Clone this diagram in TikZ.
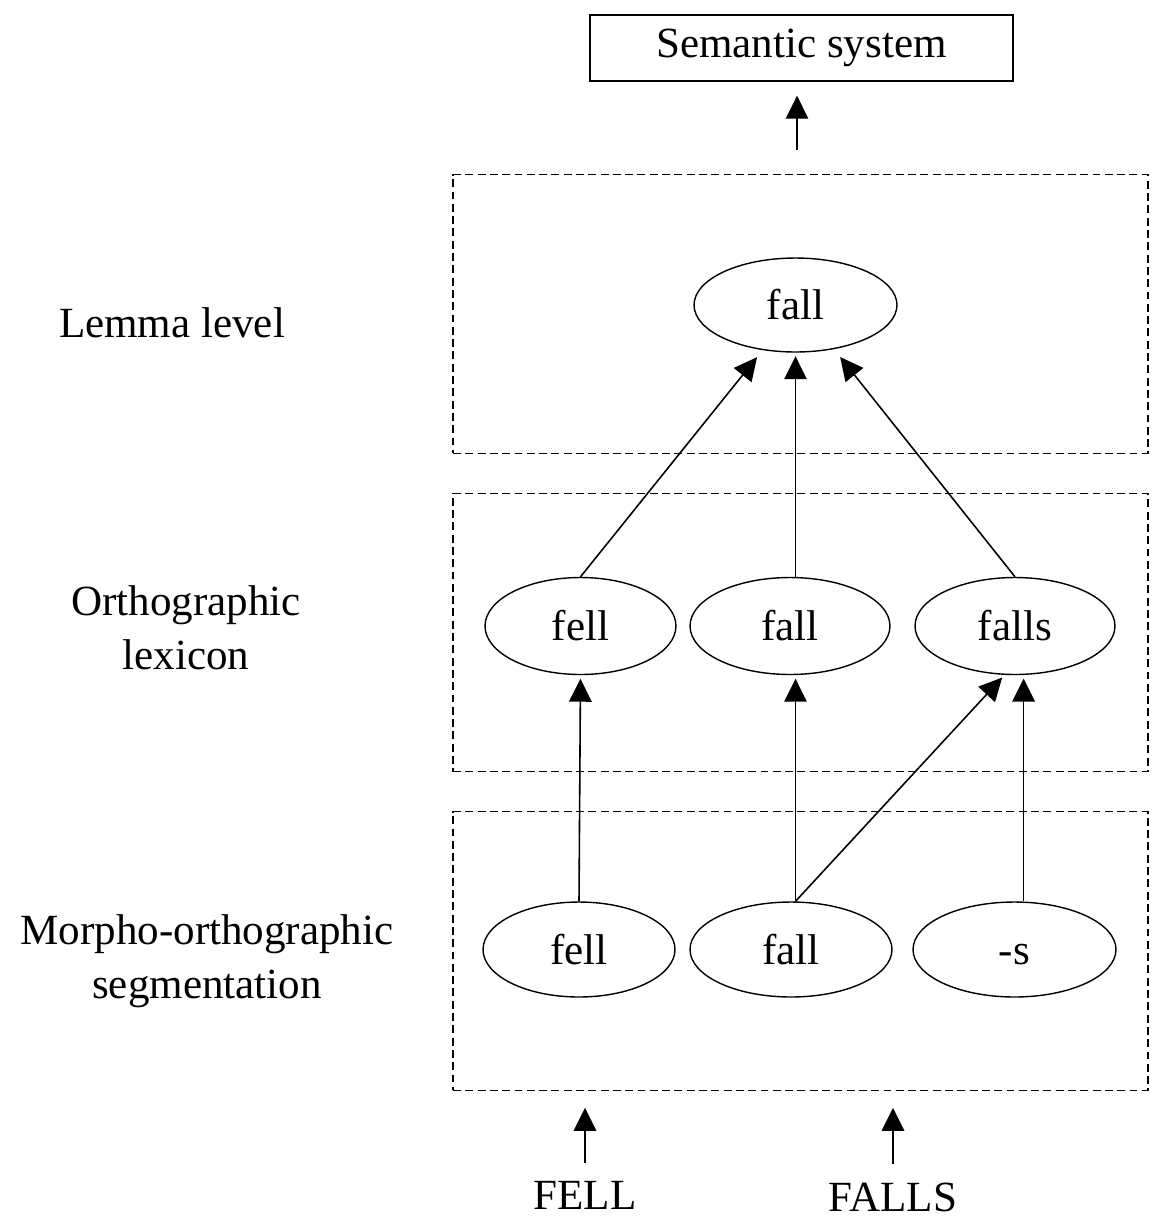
\documentclass[tikz,border=0pt]{standalone}
\usepackage{fontspec}
\setmainfont{Liberation Serif}
\usetikzlibrary{shapes.geometric,arrows.meta}

\begin{document}
\begin{tikzpicture}[x=0.02cm,y=-0.02cm,
    font=\fontsize{24.5}{30.5}\selectfont,
    word/.style={ellipse,draw,line width=0.8pt,inner sep=0pt,text height=16.8pt,text depth=0pt,minimum width=4cm,minimum height=1.94cm},
    layer/.style={draw,dashed,line width=0.7pt,dash pattern=on 4.5pt off 2.5pt,inner sep=0pt,minimum width=13.9cm,minimum height=5.57cm},
    arr/.style={-{Triangle[length=0.46cm,width=0.45cm]},line width=0.9pt,shorten >=2pt}]
      \useasboundingbox (0,0) rectangle (1153,1225);
      \draw
        (801.5,48) node[draw,line width=0.8pt,minimum width=8.46cm,minimum height=1.32cm] (0){Semantic system}
        (800.5,314) node[layer] (10){}
        (800.5,632.5) node[layer] (11){}
        (800.5,951) node[layer] (12){}
        (795.5,305) node[word,minimum width=4.06cm,minimum height=1.88cm] (1){fall}
        (580.5,626) node[word,minimum width=3.82cm] (2){fell}
        (790,626) node[word] (3){fall}
        (1015,626) node[word] (4){falls}
        (579,949.5) node[word,minimum width=3.84cm,minimum height=1.9cm] (5){fell}
        (791,949.5) node[word,minimum width=4.04cm,minimum height=1.9cm] (6){fall}
        (1014.5,949.5) node[word,minimum width=4.06cm,minimum height=1.9cm] (7){-s}
        (585,1195) node[inner sep=0pt] (8){FELL}
        (893,1197) node[inner sep=0pt] (9){FALLS}
        (172,323) node[align=center] (13){Lemma level}
        (186,628) node[align=center] (14){Orthographic\\lexicon}
        (207,961) node[align=center] (15){Morpho-orthographic\\segmentation};
      \coordinate (s0) at (797,150);
      \begin{scope}[arr]
        \draw[shorten >=0.28cm] (s0) to (s0 |- 0.south);
        \draw[shorten >=0.18cm] (2.north) to (1.234);
        \draw (3.north -| 1.south) to (1.south);
        \draw[shorten >=0.2cm] (4.north) to (1.311);
        \draw (5.north) to (2.south);
        \draw (6.north -| 1.south) to (3.south -| 1.south);
        \draw (6.north -| 1.south) to (4.258);
        \draw (7.north -| 4.280) to (4.280);
        \draw[shorten <=0.36cm,shorten >=0.34cm] (8.north) to (8.north |- 12.south);
        \draw[shorten <=0.36cm,shorten >=0.34cm] (9.north) to (9.north |- 12.south);
      \end{scope}
    \end{tikzpicture}
\end{document}
